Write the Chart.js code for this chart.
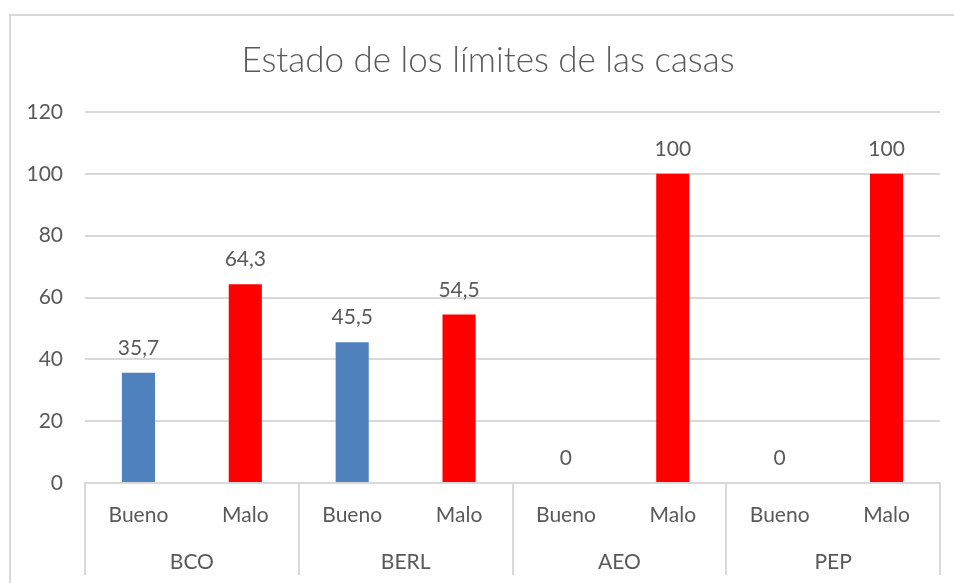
<!DOCTYPE html>
<html lang="es">
<head>
<meta charset="utf-8">
<title>Estado de los límites de las casas</title>
<script src="https://cdn.jsdelivr.net/npm/chart.js@4/dist/chart.umd.min.js"></script>
<style>
  html, body { margin: 0; padding: 0; background: #fff; overflow: hidden; }
  #marco { position: relative; width: 954px; height: 583px; }
  #borde {
    position: absolute; left: 9px; top: 14px; width: 1000px; height: 700px;
    border: 2px solid #d9d9d9; box-sizing: border-box;
  }
  #grafico { position: absolute; left: 0; top: 0; }
</style>
</head>
<body>
<div id="marco">
  <div id="borde"></div>
  <canvas id="grafico" width="954" height="583"></canvas>
</div>
<script>
const grupos = ['BCO', 'BERL', 'AEO', 'PEP'];
const estados = ['Bueno', 'Malo'];
const bueno = [35.7, 45.5, 0, 0];
const malo = [64.3, 54.5, 100, 100];
const coloresEstado = ['#4F81BD', '#FF0000'];

const fuente = 'Lato, "Open Sans", sans-serif';
const gris = '#595959';
const linea = '#d9d9d9';

// una barra por estado dentro de cada casa
const etiquetas = grupos.flatMap(() => estados);
const valores = grupos.flatMap((g, i) => [bueno[i], malo[i]]);
const colores = grupos.flatMap(() => coloresEstado);

// separadores verticales del eje de categorías de dos niveles
const separadores = {
    id: 'separadores',
    afterDraw(chart) {
        const area = chart.chartArea;
        const x2 = chart.scales.x2;
        const ctx = chart.ctx;
        const paso = (area.right - area.left) / grupos.length;
        ctx.save();
        ctx.strokeStyle = linea;
        ctx.lineWidth = 2;
        for (let i = 0; i <= grupos.length; i++) {
            const x = Math.round(area.left + i * paso);
            ctx.beginPath();
            ctx.moveTo(x, area.bottom);
            ctx.lineTo(x, x2.bottom - 8);
            ctx.stroke();
        }
        ctx.restore();
    }
};

// valor encima de cada barra, con coma decimal
const etiquetasValor = {
    id: 'etiquetasValor',
    afterDatasetsDraw(chart) {
        const ctx = chart.ctx;
        const meta = chart.getDatasetMeta(0);
        ctx.save();
        ctx.font = '21px ' + fuente;
        ctx.fillStyle = gris;
        ctx.textAlign = 'center';
        ctx.textBaseline = 'alphabetic';
        meta.data.forEach((barra, i) => {
            const texto = String(valores[i]).replace('.', ',');
            ctx.fillText(texto, barra.x, barra.y - 18);
        });
        ctx.restore();
    }
};

new Chart(document.getElementById('grafico'), {
    type: 'bar',
    data: {
        labels: etiquetas,
        datasets: [{
            data: valores,
            backgroundColor: colores,
            barPercentage: 0.31,
            categoryPercentage: 1
        }]
    },
    options: {
        responsive: false,
        animation: false,
        layout: { padding: { left: 22, right: 0, top: 0, bottom: 0 } },
        plugins: {
            legend: { display: false },
            tooltip: { enabled: false },
            title: {
                display: true,
                text: 'Estado de los límites de las casas',
                color: gris,
                font: { family: fuente, size: 35, weight: '300' },
                padding: { top: 40, bottom: 30 }
            }
        },
        scales: {
            y: {
                min: 0,
                max: 120,
                ticks: {
                    stepSize: 20,
                    color: gris,
                    font: { family: fuente, size: 21 },
                    padding: 22
                },
                grid: { color: linea, lineWidth: 2, drawTicks: false },
                border: { display: false },
                afterFit(scale) { scale.width = 63; }
            },
            // margen derecho del área de trazado
            yDer: {
                position: 'right',
                min: 0,
                max: 1,
                ticks: { display: false },
                grid: { display: false },
                border: { display: false },
                afterFit(scale) { scale.width = 14; }
            },
            x: {
                weight: 1,
                grid: { display: false },
                border: { display: true, color: linea, width: 2 },
                ticks: {
                    color: gris,
                    font: { family: fuente, size: 21 },
                    padding: 12,
                    maxRotation: 0,
                    autoSkip: false
                },
                afterFit(scale) { scale.height = 45; }
            },
            x2: {
                type: 'category',
                position: 'bottom',
                weight: 2,
                labels: grupos,
                offset: true,
                grid: { display: false },
                border: { display: false },
                ticks: {
                    color: gris,
                    font: { family: fuente, size: 21 },
                    padding: 14,
                    maxRotation: 0,
                    autoSkip: false
                },
                afterFit(scale) { scale.height = 55; }
            }
        }
    },
    plugins: [separadores, etiquetasValor]
});
</script>
</body>
</html>
